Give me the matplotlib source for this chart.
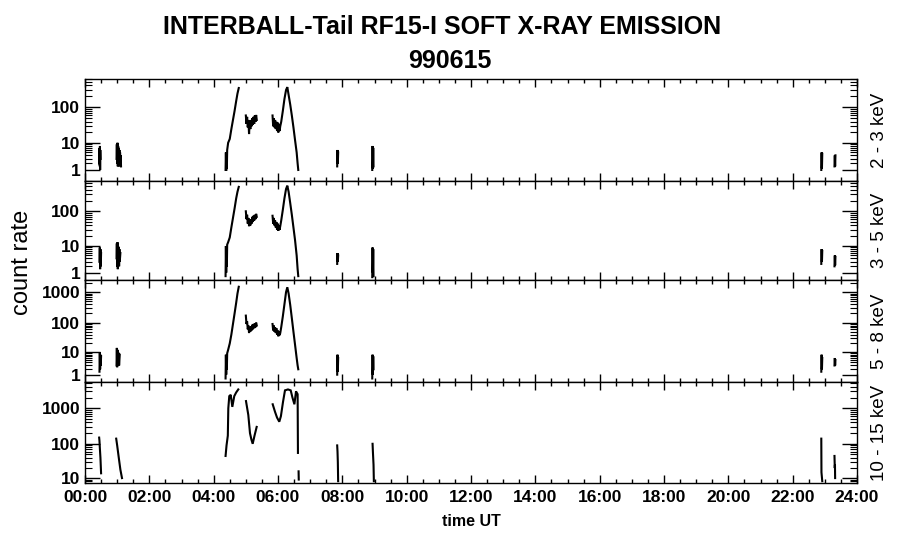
import numpy as np
import matplotlib
matplotlib.use("Agg")
import matplotlib.pyplot as plt
from matplotlib.ticker import FixedLocator, NullFormatter

plt.rcParams["font.family"] = ["Liberation Sans", "DejaVu Sans"]

nan = np.nan

# time in hours UT, NaN separates gaps in the record
t_23 = [0.45, 0.455, 0.46, 0.465, 0.47, 0.475, 0.48, nan,
        0.98, 0.99, 1.0, 1.01, 1.02, 1.03, 1.04, 1.05, 1.06, 1.07, 1.08, 1.09, 1.10, 1.11, 1.12, nan,
        4.37, 4.38, 4.39, 4.40, 4.41, 4.42, 4.45, 4.5, 4.55, 4.6, 4.65, 4.7, 4.74, 4.78, nan,
        5.0, 5.02, 5.04, 5.06, 5.08, 5.10, 5.12, 5.14, 5.16, 5.18, 5.20, 5.22, 5.24, 5.26, 5.28, 5.30, 5.32, 5.34, nan,
        5.83, 5.85, 5.87, 5.89, 5.91, 5.93, 5.95, 5.97, 5.99, 6.01, 6.03, 6.05, 6.07, 6.10, 6.15, 6.20, 6.25,
        6.29, 6.33, 6.38, 6.43, 6.48, 6.53, 6.58, 6.61, 6.63, nan,
        7.84, 7.85, 7.86, 7.87, nan,
        8.93, 8.94, 8.95, 8.96, 8.97, nan,
        22.89, 22.90, 22.91, 22.92, nan,
        23.30, 23.31, 23.32, 23.33]
v_23 = [2, 7, 1.5, 8, 1, 6, 3, nan,
        3, 9, 2, 10, 1.5, 8, 2, 7, 1.8, 6, 1.5, 5, 2, 4, 1.5, nan,
        1, 5, 0.9, 4, 1.2, 6, 10, 13, 25, 45, 80, 150, 240, 340, nan,
        60, 35, 55, 28, 45, 18, 40, 25, 45, 30, 50, 33, 55, 35, 60, 40, 62, 45, nan,
        60, 30, 50, 28, 45, 25, 40, 22, 38, 20, 35, 22, 30, 40, 80, 170, 300,
        360, 220, 120, 60, 28, 12, 5, 2, 1, nan,
        1.5, 6, 2, 5, nan,
        1, 8, 1.2, 7, 1.5, nan,
        1, 5, 1.2, 4.5, nan,
        1.5, 4, 1.5, 4]

t_35 = [0.45, 0.46, 0.47, 0.48, 0.49, 0.50, nan,
        0.98, 0.99, 1.0, 1.01, 1.02, 1.03, 1.04, 1.05, 1.06, 1.07, 1.08, 1.10, nan,
        4.37, 4.38, 4.39, 4.40, 4.41, 4.42, 4.45, 4.5, 4.55, 4.6, 4.65, 4.7, 4.74, 4.78, nan,
        5.0, 5.02, 5.04, 5.06, 5.08, 5.10, 5.12, 5.14, 5.16, 5.18, 5.20, 5.22, 5.24, 5.26, 5.28, 5.30, 5.32, 5.34, nan,
        5.83, 5.85, 5.87, 5.89, 5.91, 5.93, 5.95, 5.97, 5.99, 6.01, 6.03, 6.05, 6.07, 6.10, 6.15, 6.20, 6.25,
        6.29, 6.33, 6.38, 6.43, 6.48, 6.53, 6.58, 6.61, 6.63, nan,
        7.84, 7.85, 7.86, 7.87, nan,
        8.93, 8.94, 8.95, 8.96, 8.97, nan,
        22.89, 22.90, 22.91, 22.92, nan,
        23.30, 23.31, 23.32, 23.33]
v_35 = [3, 9, 1.5, 8, 2, 6, nan,
        4, 12, 2, 13, 1.5, 10, 3, 9, 2, 8, 3, 6, nan,
        0.6, 10, 1, 8, 2, 11, 13, 18, 35, 65, 120, 230, 350, 480, nan,
        100, 60, 80, 45, 65, 38, 55, 40, 60, 45, 70, 50, 75, 55, 80, 60, 85, 70, nan,
        75, 45, 65, 40, 55, 35, 50, 30, 45, 28, 40, 30, 38, 55, 110, 230, 420,
        520, 350, 170, 80, 35, 15, 5, 1.5, 0.6, nan,
        2.5, 6, 3, 5, nan,
        0.5, 9, 1, 8, 0.6, nan,
        2.5, 8, 3, 7, nan,
        2, 5, 2.2, 4.5]

t_58 = [0.45, 0.46, 0.47, 0.48, 0.49, 0.50, nan,
        0.98, 0.99, 1.0, 1.01, 1.02, 1.03, 1.04, 1.05, 1.06, 1.08, nan,
        4.37, 4.38, 4.39, 4.40, 4.41, 4.42, 4.45, 4.5, 4.55, 4.6, 4.65, 4.7, 4.74, 4.78, nan,
        5.0, 5.02, 5.04, 5.06, 5.08, 5.10, 5.12, 5.14, 5.16, 5.18, 5.20, 5.22, 5.24, 5.26, 5.28, 5.30, 5.32, 5.34, nan,
        5.83, 5.85, 5.87, 5.89, 5.91, 5.93, 5.95, 5.97, 5.99, 6.01, 6.03, 6.05, 6.07, 6.10, 6.15, 6.20, 6.25,
        6.29, 6.33, 6.38, 6.43, 6.48, 6.53, 6.58, 6.61, 6.63, nan,
        7.84, 7.85, 7.86, 7.87, nan,
        8.93, 8.94, 8.95, 8.96, 8.97, nan,
        22.89, 22.90, 22.91, 22.92, nan,
        23.30, 23.31, 23.32, 23.33]
v_58 = [1.5, 10, 2, 8, 3, 7, nan,
        3, 14, 2.5, 12, 3, 10, 4, 9, 3, 8, nan,
        0.5, 8, 1, 6, 2, 9, 12, 20, 40, 90, 200, 450, 900, 1500, nan,
        170, 90, 110, 60, 80, 45, 70, 50, 75, 55, 85, 60, 90, 65, 95, 70, 100, 80, nan,
        90, 55, 80, 50, 70, 45, 65, 40, 55, 35, 50, 38, 45, 70, 160, 400, 1000,
        1450, 900, 380, 140, 50, 18, 6, 3, 2, nan,
        1, 8, 1.5, 6, nan,
        0.5, 8, 1, 7, 2, nan,
        1.5, 8, 2, 6, nan,
        3, 6, 3, 5]

t_1015 = [0.44, 0.45, 0.46, 0.48, 0.50, nan,
          0.97, 1.0, 1.05, 1.10, 1.15, nan,
          4.37, 4.40, 4.44, 4.455, 4.485, 4.53, 4.58, 4.64, 4.70, 4.765, nan,
          5.005, 5.077, 5.129, 5.175, 5.213, 5.27, 5.337, nan,
          5.835, 5.907, 5.97, 6.04, 6.09, 6.155, 6.217, 6.31, 6.395, 6.45, 6.51, 6.56, 6.61, 6.62, nan,
          6.64, 6.645, nan,
          7.84, 7.85, 7.86, 7.87, nan,
          8.94, 8.95, 8.97, 8.98, nan,
          22.89, 22.895, 22.92, nan,
          23.30, 23.31, 23.315, 23.32]
v_1015 = [150, 120, 80, 40, 14, nan,
          140, 90, 40, 18, 10, nan,
          45, 90, 170, 1000, 2200, 2400, 1100, 2200, 2800, 3400, nan,
          1600, 650, 200, 130, 100, 170, 300, nan,
          1300, 800, 550, 420, 600, 1500, 3200, 3400, 3200, 2000, 1300, 3000, 2500, 55, nan,
          16, 9, nan,
          90, 60, 30, 8, nan,
          100, 60, 25, 8, nan,
          140, 15, 8, nan,
          45, 20, 25, 10]

channels = ["2 - 3 keV", "3 - 5 keV", "5 - 8 keV", "10 - 15 keV"]
series = [(t_23, v_23), (t_35, v_35), (t_58, v_58), (t_1015, v_1015)]
y_limits = [(0, 600), (0.25, 700), (0.15, 2500), (7, 5500)]
hour_ticks = list(range(0, 25, 2))
hour_labels = ["%02d:00" % h for h in hour_ticks]

# panel edges in pixels (top, bottom) of a 900x548 figure
W, H = 900, 548
LEFT, RIGHT = 85, 857
panels = [(79, 181), (181, 280), (280, 382), (382, 483)]


def fwd(y):
    return np.log10(np.clip(np.asarray(y, dtype=float) + 1.0, 1e-6, None))


def inv(u):
    return 10.0 ** np.asarray(u, dtype=float) - 1.0


fig = plt.figure(figsize=(W / 100, H / 100), dpi=100)

for i, ((top, bot), (t, v), lim, name) in enumerate(zip(panels, series, y_limits, channels)):
    ax = fig.add_axes([LEFT / W, 1 - bot / H, (RIGHT - LEFT) / W, (bot - top) / H])
    ax.plot(t, v, color="black", lw=1.5, solid_joinstyle="miter")
    ax.set_yscale("function", functions=(fwd, inv))
    ax.set_xlim(0, 24)
    ax.set_ylim(*lim)

    majors = [m for m in (1, 10, 100, 1000) if lim[0] <= m <= lim[1]]
    minors = [k * d for d in (1, 10, 100, 1000) for k in range(2, 10)
              if lim[0] <= k * d <= lim[1]]
    ax.yaxis.set_major_locator(FixedLocator(majors))
    ax.yaxis.set_minor_locator(FixedLocator(minors))
    ax.set_yticklabels([str(m) for m in majors])
    ax.yaxis.set_minor_formatter(NullFormatter())

    ax.xaxis.set_major_locator(FixedLocator(hour_ticks))
    ax.xaxis.set_minor_locator(FixedLocator(np.arange(0, 24.01, 0.5)))
    if i == 3:
        ax.set_xticklabels(hour_labels)
    else:
        ax.set_xticklabels([])

    ax.tick_params(axis="y", which="major", direction="in", length=11, width=1.0,
                   left=True, right=True, labelsize=12.5, pad=3.5)
    ax.tick_params(axis="y", which="minor", direction="in", length=5, width=0.8,
                   left=True, right=True)
    ax.tick_params(axis="x", which="major", direction="in", length=6, width=1.0,
                   top=True, bottom=True, labelsize=12.5, pad=5)
    ax.tick_params(axis="x", which="minor", direction="in", length=3, width=1.0,
                   top=True, bottom=True)
    for lab in ax.get_xticklabels() + ax.get_yticklabels():
        lab.set_fontweight("bold")
    for sp in ax.spines.values():
        sp.set_linewidth(1.0)

    fig.text(880 / W, 1 - (top + bot) / 2 / H, name, rotation=90,
             ha="center", va="center", fontsize=13.5)

fig.text(442 / W, 1 - 27 / H, "INTERBALL-Tail RF15-I SOFT X-RAY EMISSION",
         ha="center", va="center", fontsize=18, fontweight="bold")
fig.text(450 / W, 1 - 61 / H, "990615", ha="center", va="center",
         fontsize=18, fontweight="bold")
fig.text(22 / W, 1 - 262 / H, "count rate", rotation=90, ha="center", va="center",
         fontsize=17)
fig.text(471 / W, 1 - 522 / H, "time UT", ha="center", va="center",
         fontsize=11.5, fontweight="bold")

fig.savefig("out.png", dpi=100)
